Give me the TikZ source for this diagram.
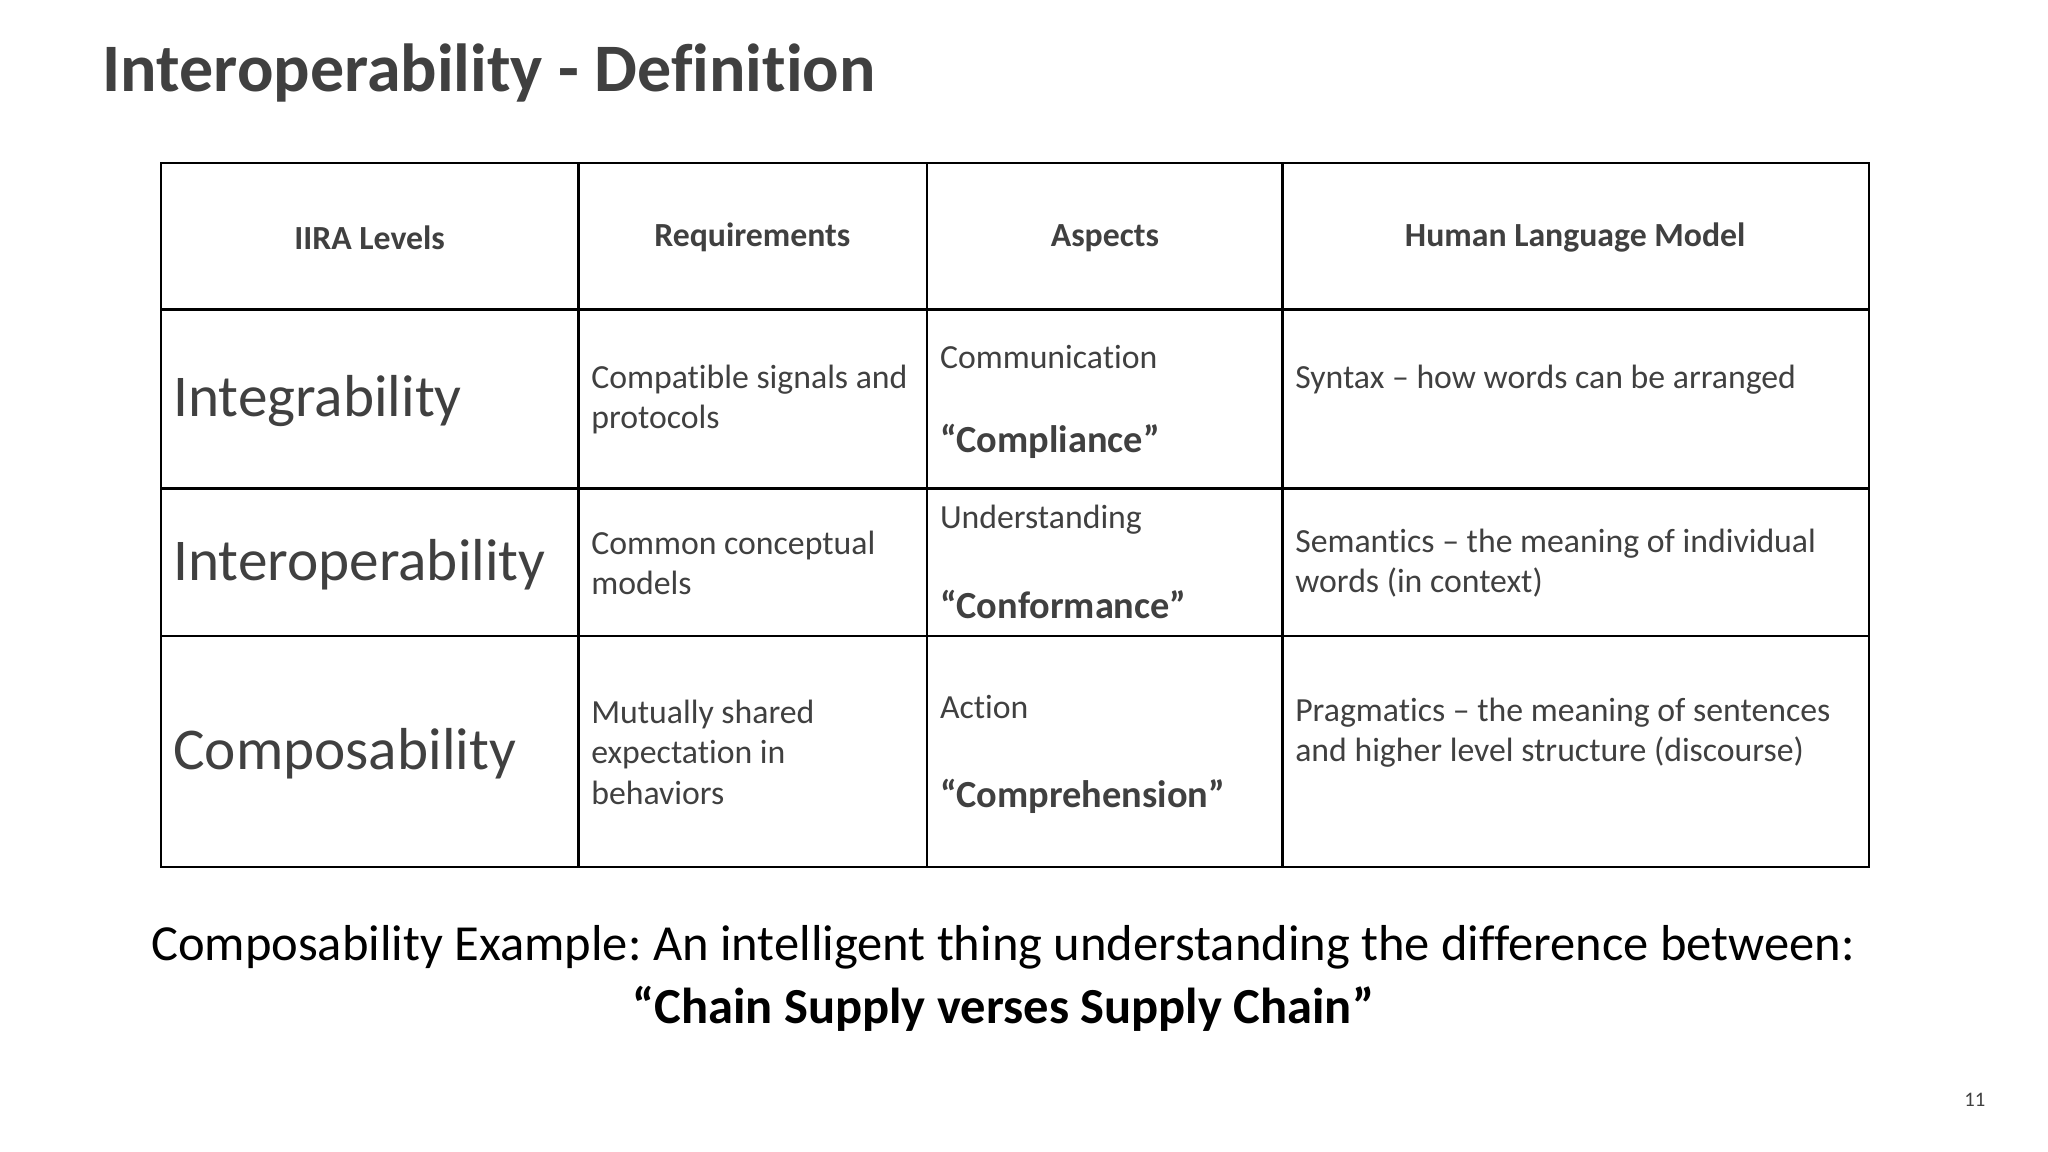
\documentclass[tikz,border=0pt]{standalone}
\usepackage{fontspec}
\setmainfont{Carlito}[Ligatures=NoCommon]
\frenchspacing
\begin{document}
\begin{tikzpicture}[x=0.01cm,y=-0.01cm,
  body/.style={anchor=west,align=left,inner sep=0pt,text=black!75,font=\fontsize{7.35}{8.8}\selectfont},
  hdr/.style={anchor=center,inner sep=0pt,text=black!75,font=\fontsize{7.35}{8.8}\selectfont\bfseries},
  big/.style={anchor=west,inner sep=0pt,text=black!75,font=\fontsize{12.9}{14}\selectfont},
  grid/.style={line width=0.5pt,black}]
\useasboundingbox (0,0) rectangle (1568,882);
\node[anchor=west,inner sep=0pt,text=black!75,font=\fontsize{14.8}{16}\selectfont\bfseries] (title) at (78,56) {Interoperability - Definition};
\draw[grid] (123,125) rectangle (1431,664);
\foreach \x in {443,710,982} \draw[grid] (\x,125) -- (\x,664);
\foreach \y in {237,374,487} \draw[grid] (123,\y) -- (1431,\y);
\node[hdr] (h1) at (283,182) {IIRA Levels};
\node[hdr] (h2) at (576,182) {Requirements};
\node[hdr] (h3) at (846,182) {Aspects};
\node[hdr] (h4) at (1206,182) {Human Language Model};
\node[big] (l1) at (132,307) {Integrability};
\node[big] (l2) at (132,432) {Interoperability};
\node[big] (l3) at (132,577) {Composability};
\node[body] (r1) at (452,306) {Compatible signals and\\protocols};
\node[body] (r2) at (452,431) {Common conceptual\\models};
\node[body] (r3) at (452,576) {Mutually shared\\expectation in\\behaviors};
\node[body] (a1) at (719,273) {Communication};
\node[body,font=\fontsize{8.35}{9}\selectfont\bfseries] (a1b) at (719,338) {“Compliance”};
\node[body] (a2) at (719,398) {Understanding};
\node[body,font=\fontsize{8.35}{9}\selectfont\bfseries] (a2b) at (719,463) {“Conformance”};
\node[body] (a3) at (719,541) {Action};
\node[body,font=\fontsize{8.35}{9}\selectfont\bfseries] (a3b) at (719,610) {“Comprehension”};
\node[body] (m1) at (991,291) {Syntax – how words can be arranged};
\node[body] (m2) at (991,431) {Semantics – the meaning of individual\\words (in context)};
\node[body] (m3) at (991,561) {Pragmatics – the meaning of sentences\\and higher level structure (discourse)};
\node[anchor=center,align=center,inner sep=0pt,font=\fontsize{11}{13.7}\selectfont] (ex) at (768,749) {Composability Example: An intelligent thing understanding the difference between:\\\textbf{“Chain Supply verses Supply Chain”}};
\node[anchor=center,inner sep=0pt,text=black!75,font=\fontsize{4.5}{5}\selectfont] (pg) at (1512,842) {11};
\end{tikzpicture}
\end{document}
